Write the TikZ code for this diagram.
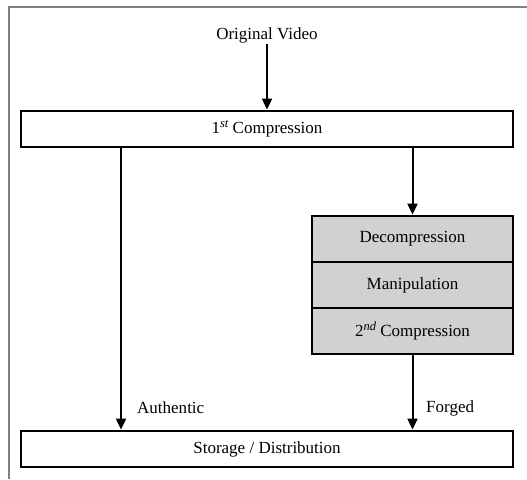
\documentclass[tikz,border=0pt]{standalone}
\usepackage{fontspec}
\setmainfont{Liberation Serif}
\usetikzlibrary{arrows.meta}
\newcommand{\supx}[1]{\raisebox{6.5pt}{\fontsize{12.5}{13}\selectfont\itshape #1}}
\begin{document}
\begin{tikzpicture}[x=1pt,y=-1pt,
  txt/.style={font=\fontsize{17}{20}\selectfont, inner sep=0pt},
  wbox/.style={draw, line width=2.8pt, fill=white, minimum width=492pt, minimum height=36pt, inner sep=0pt, font=\fontsize{17}{20}\selectfont},
  gbox/.style={draw, line width=2.8pt, fill=black!18, minimum width=201pt, minimum height=46pt, inner sep=0pt, font=\fontsize{17}{20}\selectfont},
  arr/.style={line width=2pt, -{Triangle[length=11pt,width=10pt]}}]
\useasboundingbox (0,0) rectangle (527,479);
\draw[black!50, line width=1.5pt] (9,479) -- (9,7) -- (527,7);
\node[txt] (vid) at (267,35) {Original Video};
\node[wbox] (c1) at (267,129) {1\supx{st} Compression};
\node[gbox] (dec) at (412.5,239) {Decompression};
\node[gbox] (man) at (412.5,285) {Manipulation};
\node[gbox] (c2) at (412.5,331) {2\supx{nd} Compression};
\node[wbox] (st) at (267,449) {Storage / Distribution};
\coordinate (xa) at (121,0);
\draw[arr] ([yshift=-1pt]vid.south) -- (c1.north);
\draw[arr] (c1.south -| xa) -- (st.north -| xa);
\draw[arr] (c1.south -| dec.north) -- (dec.north);
\draw[arr] (c2.south) -- (st.north -| c2.south);
\node[txt, anchor=west] (auth) at (137,408) {Authentic};
\node[txt, anchor=west] (forg) at (426,408) {Forged};
\end{tikzpicture}
\end{document}
